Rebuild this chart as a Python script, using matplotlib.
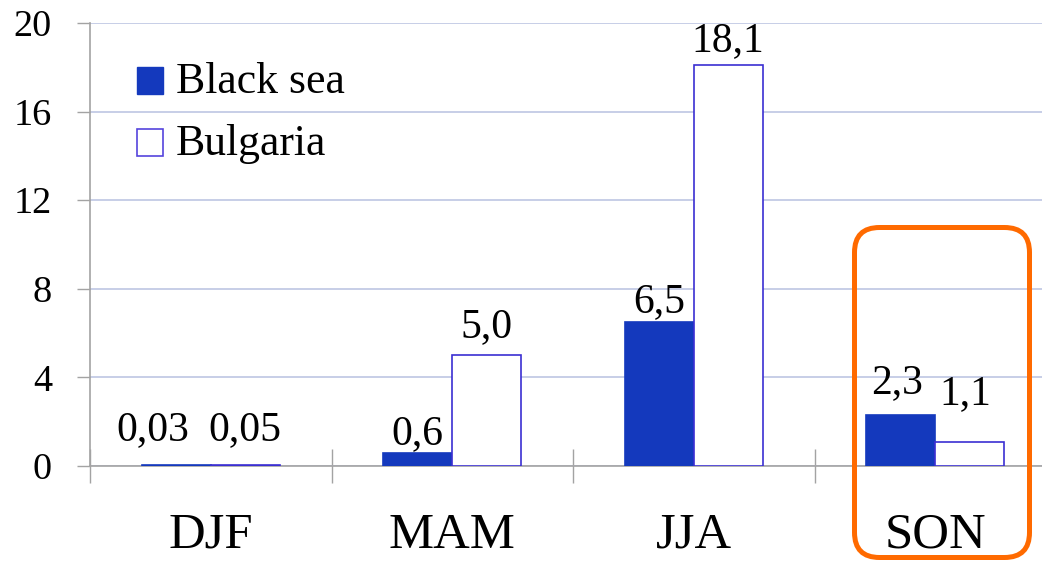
import matplotlib
matplotlib.use("Agg")
import matplotlib.pyplot as plt
from matplotlib.patches import Rectangle, FancyBboxPatch
import numpy as np

# Seasonal values
seasons = ["DJF", "MAM", "JJA", "SON"]
black_sea = [0.03, 0.6, 6.5, 2.3]
bulgaria = [0.05, 5.0, 18.1, 1.1]
series_names = ["Black sea", "Bulgaria"]
y_ticks = [0, 4, 8, 12, 16, 20]

BLUE = "#1439BD"
EDGE = "#3B2FD2"
GRID = "#BDC6E3"
AXIS = "#A3A3A3"
ORANGE = "#FF6A00"
FONT = "Liberation Serif"

W, H = 1042, 563
fig = plt.figure(figsize=(W / 100, H / 100), dpi=100)
plt.rcParams["font.family"] = [FONT, "DejaVu Serif"]

ax = fig.add_axes([90 / W, 97 / H, 966 / W, 443 / H])
x = np.arange(len(seasons))
bw = 0.2857

ax.bar(x - bw / 2, black_sea, bw, color=BLUE, edgecolor=BLUE, linewidth=1.2, zorder=3)
ax.bar(x + bw / 2, bulgaria, bw, color="white", edgecolor=EDGE, linewidth=1.2, zorder=3)

ax.set_xlim(-0.5, len(seasons) - 0.5)
ax.set_ylim(0, 20)

# y axis
ax.set_yticks(y_ticks)
ax.set_yticklabels([str(t) for t in y_ticks], fontsize=27.5)
ax.tick_params(axis="y", direction="out", length=9.4, width=1, color=AXIS, pad=18)
ax.yaxis.grid(True, color=GRID, linewidth=1.2, zorder=0)
ax.set_axisbelow(True)

# x axis: ticks at category boundaries
ax.set_xticks(np.arange(-0.5, len(seasons), 1.0))
ax.set_xticklabels([])
ax.tick_params(axis="x", direction="inout", length=24.5, width=1, color=AXIS)

for side in ("top", "right"):
    ax.spines[side].set_visible(False)
for side in ("left", "bottom"):
    ax.spines[side].set_color(AXIS)
    ax.spines[side].set_linewidth(1.2)

for xi, name in zip(x, seasons):
    ax.text(xi, -0.185, name, transform=ax.get_xaxis_transform(),
            ha="center", va="baseline", fontsize=36.5, clip_on=False)


def fmt(v):
    s = f"{v:.2f}" if v < 0.1 else f"{v:.1f}"
    return s.replace(".", ",")


# label offsets (pixels) from the top of each bar
dy_blue = [25, 9, 10, 22]
dy_white = [25, 18, 14, 38]
dx_blue = [-23, 0, 0, -4]
dx_white = [0, 0, 0, -4]
for i in range(len(seasons)):
    ax.annotate(fmt(black_sea[i]), (x[i] - bw / 2, black_sea[i]),
                xytext=(dx_blue[i] * 0.72, dy_blue[i] * 0.72), textcoords="offset points",
                ha="center", va="baseline", fontsize=30)
    ax.annotate(fmt(bulgaria[i]), (x[i] + bw / 2, bulgaria[i]),
                xytext=(dx_white[i] * 0.72, dy_white[i] * 0.72), textcoords="offset points",
                ha="center", va="baseline", fontsize=30)

# legend drawn in figure inches
tr = fig.dpi_scale_trans
def px(xp, yp):
    return xp / 100, (H - yp) / 100

fig.patches.append(Rectangle(px(137, 94), 0.26, 0.27, transform=tr,
                             facecolor=BLUE, edgecolor=BLUE, linewidth=1))
fig.patches.append(Rectangle(px(137, 156), 0.26, 0.27, transform=tr,
                             facecolor="white", edgecolor="#5544DD", linewidth=1.2))
fig.text(*px(176, 93), series_names[0], transform=tr, fontsize=31.5, va="baseline")
fig.text(*px(176, 155), series_names[1], transform=tr, fontsize=31.5, va="baseline")

# highlight box around the autumn season
fig.patches.append(FancyBboxPatch(px(854.5, 557.5), 1.75, 3.30, transform=tr,
                                  boxstyle="round,pad=0,rounding_size=0.25",
                                  facecolor="none", edgecolor=ORANGE, linewidth=3.6,
                                  zorder=10))

fig.savefig("out.png", dpi=100)
